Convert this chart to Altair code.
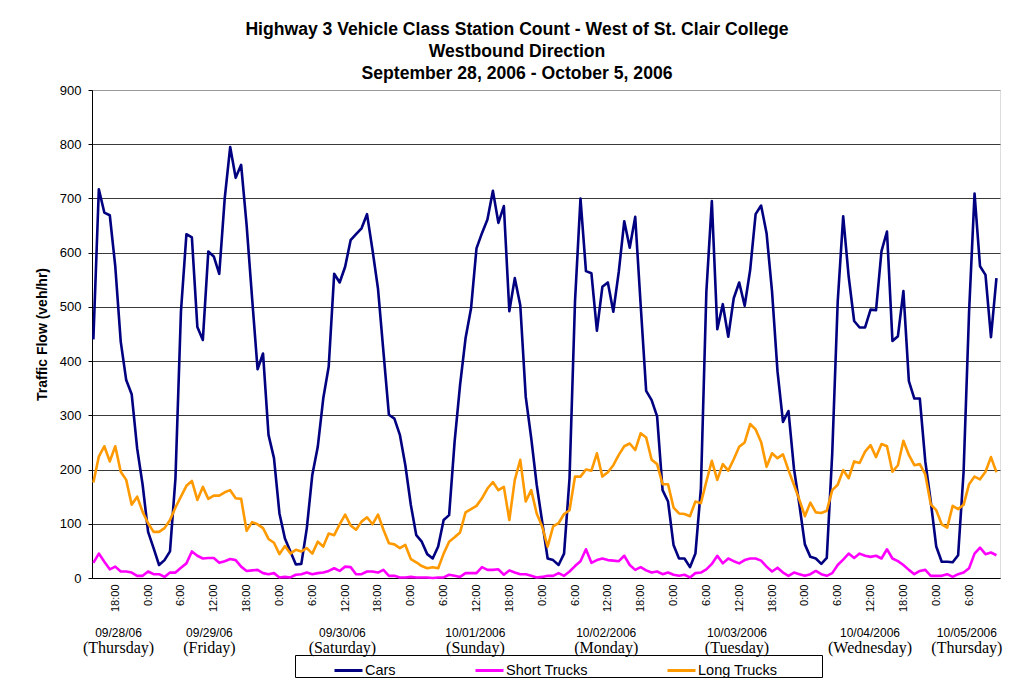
import altair as alt
import pandas as pd

start_hour = 14  # first reading: 09/28/06 14:00, hourly

cars = [440, 717, 674, 669, 575, 436, 365, 339, 239, 172, 85, 55, 24, 33, 49, 184, 491, 634, 628, 463,
        439, 602, 593, 561, 700, 795, 738, 762, 651, 516, 385, 414, 264, 221, 119, 73, 49, 25, 26, 92,
        190, 242,
        331, 390, 561, 545, 574, 623, 634, 645, 671, 605, 534, 417, 301, 294, 264, 208, 135, 79, 67, 44,
        36, 58, 107, 116, 251, 356, 442, 497, 608, 636, 661, 714, 655, 686, 492, 553, 503, 334, 258, 172,
        104, 36,
        33, 24, 45, 184, 510, 700, 566, 562, 456, 537, 545, 491, 565, 658, 609, 666, 503, 345, 328, 298,
        162, 141, 61, 36, 36, 20, 45, 165, 528, 695, 459, 505, 445, 516, 545, 502, 568, 671, 687, 636,
        528, 381,
        288, 308, 202, 135, 62, 39, 36, 26, 37, 230, 510, 667, 556, 474, 462, 462, 495, 494, 603, 639,
        437, 446, 529, 363, 331, 331, 215, 141, 58, 30, 30, 29, 42, 196, 491, 709, 575, 559, 444, 553]

short_trucks = [28, 45, 30, 16, 21, 12, 12, 10, 4, 4, 12, 7, 7, 2, 10, 10, 19, 27, 49, 41,
                36, 37, 37, 28, 31, 35, 33, 21, 13, 14, 15, 9, 7, 9, 1, 2, 1, 6, 7, 10,
                7, 9,
                10, 13, 18, 13, 21, 20, 7, 7, 12, 12, 10, 15, 4, 4, 1, 1, 2, 1, 1, 1,
                0, 1, 1, 6, 4, 2, 9, 9, 9, 20, 15, 15, 16, 6, 14, 10, 7, 7, 4, 1,
                2, 4,
                4, 9, 4, 12, 22, 31, 53, 28, 33, 36, 33, 32, 31, 41, 24, 15, 20, 14, 10, 12,
                7, 10, 6, 4, 6, 1, 9, 10, 16, 26, 41, 27, 36, 31, 27, 33, 36, 36, 32, 21,
                12, 19,
                10, 4, 10, 7, 4, 7, 13, 7, 4, 9, 24, 34, 45, 37, 45, 41, 39, 41, 36, 53,
                36, 31, 24, 15, 7, 13, 15, 4, 4, 4, 7, 2, 7, 10, 18, 45, 56, 44, 47, 42]

long_trucks = [176, 224, 243, 215, 243, 196, 181, 135, 150, 122, 101, 85, 85, 92, 107, 130, 150, 170, 179, 144,
               168, 146, 152, 152, 158, 162, 147, 146, 87, 103, 99, 92, 72, 65, 44, 59, 45, 52, 49, 55,
               45, 67,
               58, 82, 79, 99, 117, 97, 89, 104, 112, 99, 117, 89, 64, 62, 55, 61, 35, 29, 22, 18,
               20, 18, 45, 67, 75, 84, 121, 127, 133, 147, 165, 177, 162, 168, 107, 181, 218, 141, 162, 119,
               95, 58,
               95, 101, 118, 125, 187, 187, 200, 198, 230, 187, 195, 208, 227, 243, 248, 236, 267, 259, 218, 210,
               173, 173, 130, 119, 118, 114, 141, 138, 178, 216, 181, 210, 198, 219, 242, 250, 284, 274, 251, 205,
               230, 221,
               228, 199, 172, 144, 114, 139, 121, 120, 124, 162, 172, 199, 184, 215, 212, 233, 245, 223, 247, 243,
               196, 208, 253, 227, 208, 210, 191, 136, 125, 99, 93, 133, 127, 135, 173, 187, 182, 196, 223, 195]

series_names = ["Cars", "Short Trucks", "Long Trucks"]
series_colors = ["#000080", "#FF00FF", "#FF9900"]

tick_hours = list(range(18, 175, 6))  # hours since 09/28/06 0:00

day_dates = ["09/28/06", "09/29/06", "09/30/06", "10/01/2006",
             "10/02/2006", "10/03/2006", "10/04/2006", "10/05/2006"]
day_names = ["(Thursday)", "(Friday)", "(Saturday)", "(Sunday)",
             "(Monday)", "(Tuesday)", "(Wednesday)", "(Thursday)"]
day_label_hours = [18.6, 35.2, 59.5, 83.8, 107.7, 131.6, 155.9, 173.6]

title_lines = ["Highway 3 Vehicle Class Station Count - West of St. Clair College",
               "Westbound Direction",
               "September 28, 2006 - October 5, 2006"]

# ---- build tables ----
hours = list(range(start_hour, start_hour + len(cars)))
rows = []
for k, (name, vals) in enumerate(zip(series_names, [cars, short_trucks, long_trucks])):
    for h, v in zip(hours, vals):
        rows.append({"hour": h, "series": name, "flow": v, "k": k})
df = pd.DataFrame(rows)
days = pd.DataFrame({"hour": day_label_hours, "date": day_dates, "dow": day_names})

SANS = "Liberation Sans"
SERIF = "Liberation Serif"

x_scale = alt.Scale(domain=[13.75, 179.65], nice=False, zero=False)
y_scale = alt.Scale(domain=[0, 900], nice=False)

x_axis = alt.Axis(values=tick_hours, labelExpr="(datum.value % 24) + ':00'",
                  labelAngle=270, labelFontSize=11, labelFont=SANS, labelColor="#000",
                  labelOverlap=False, labelBound=False, labelFlush=False,
                  ticks=False, grid=False, title=None, domainColor="#000",
                  labelPadding=6)

lines = alt.Chart(df).mark_line(strokeWidth=2.6, strokeJoin="round").encode(
    x=alt.X("hour:Q", scale=x_scale, axis=x_axis),
    y=alt.Y("flow:Q", scale=y_scale,
            axis=alt.Axis(values=list(range(0, 901, 100)), title="Traffic Flow (veh/hr)",
                          titleFont=SANS, titleFontSize=14, titleFontWeight="bold", titleColor="#000",
                          titlePadding=10,
                          labelFont=SANS, labelFontSize=13, labelColor="#000", labelPadding=7,
                          tickSize=4, tickColor="#000", domainColor="#000",
                          gridColor={"condition": {"test": "datum.value === 900", "value": "#999999"},
                                     "value": "#3a3a3a"},
                          gridWidth=1)),
    color=alt.Color("series:N",
                    scale=alt.Scale(domain=series_names, range=series_colors),
                    legend=alt.Legend(title="\u00a0", titleOrient="right", titlePadding=45,
                                      orient="none", legendX=203, legendY=565,
                                      direction="horizontal", symbolType="stroke",
                                      symbolSize=784, symbolStrokeWidth=3, symbolOffset=38,
                                      labelOffset=1, labelFont=SANS, labelFontSize=14.5,
                                      labelColor="#000", columnPadding=40, padding=0,
                                      strokeColor="#000")),
    order=alt.Order("k:Q"),
    detail="series:N",
)

date_text = alt.Chart(days).mark_text(font=SANS, fontSize=12, baseline="middle",
                                      align="center", color="#000").encode(
    x=alt.X("hour:Q", scale=x_scale, axis=x_axis),
    y=alt.value(543),
    text="date:N",
)
dow_text = alt.Chart(days).mark_text(font=SERIF, fontSize=16, baseline="middle",
                                     align="center", color="#000").encode(
    x=alt.X("hour:Q", scale=x_scale, axis=x_axis),
    y=alt.value(558),
    text="dow:N",
)

chart = alt.layer(lines, date_text, dow_text).properties(
    width=908, height=488,
    title=alt.Title(text=title_lines, font=SANS, fontSize=17.6, fontWeight="bold",
                    color="#000", anchor="middle", dx=-29, lineHeight=22, offset=1),
    autosize=alt.AutoSizeParams(type="none"),
    padding={"left": 84, "top": 82, "right": 8, "bottom": 107},
).configure_view(stroke="#999999", strokeWidth=1).configure(background="white").configure_axisX(
    labelOverlap=False)

chart.save("out.html", embed_options={"renderer": "svg", "actions": False})
